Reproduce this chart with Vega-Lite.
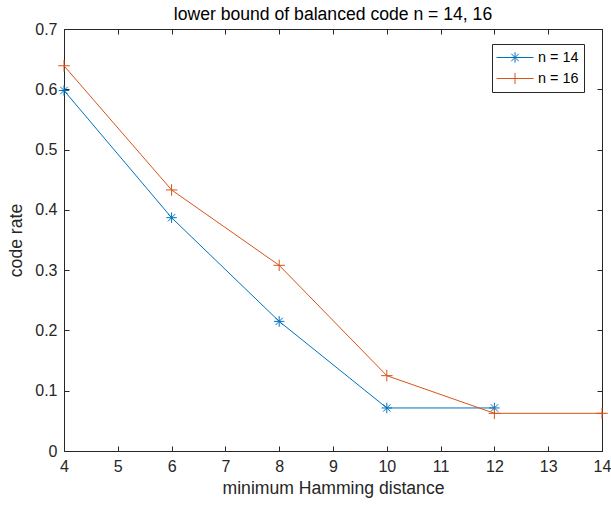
{
  "$schema": "https://vega.github.io/schema/vega-lite/v6.json",
  "width": 538,
  "height": 422,
  "autosize": "none",
  "padding": {"left": 64, "top": 29, "right": 9, "bottom": 55},
  "background": "white",
  "config": {
    "font": "Liberation Sans",
    "view": {"stroke": null},
    "axis": {
      "domainColor": "#262626",
      "tickColor": "#262626",
      "labelColor": "#262626",
      "titleColor": "#262626",
      "labelFontSize": 16,
      "titleFontSize": 17.6,
      "titleFontWeight": "normal",
      "grid": false,
      "tickSize": -5,
      "domainWidth": 1,
      "tickWidth": 1
    }
  },
  "title": {
    "text": "lower bound of balanced code n = 14, 16",
    "fontSize": 17.6,
    "fontWeight": "normal",
    "color": "#000000",
    "offset": -3
  },
  "data": {
    "values": [
      {"d": 4, "rate": 0.598, "series": "n = 14"},
      {"d": 6, "rate": 0.387, "series": "n = 14"},
      {"d": 8, "rate": 0.215, "series": "n = 14"},
      {"d": 10, "rate": 0.0714, "series": "n = 14"},
      {"d": 12, "rate": 0.0714, "series": "n = 14"},
      {"d": 4, "rate": 0.639, "series": "n = 16"},
      {"d": 6, "rate": 0.433, "series": "n = 16"},
      {"d": 8, "rate": 0.308, "series": "n = 16"},
      {"d": 10, "rate": 0.125, "series": "n = 16"},
      {"d": 12, "rate": 0.0625, "series": "n = 16"},
      {"d": 14, "rate": 0.0625, "series": "n = 16"}
    ]
  },
  "layer": [
    {
      "mark": {"type": "line", "strokeWidth": 1, "clip": false},
      "encoding": {
        "x": {
          "field": "d", "type": "quantitative",
          "scale": {"domain": [4, 14], "nice": false, "zero": false},
          "axis": {"title": "minimum Hamming distance", "values": [4,5,6,7,8,9,10,11,12,13,14], "labelPadding": 12, "titlePadding": 5, "orient": "bottom", "labelFlush": false}
        },
        "y": {
          "field": "rate", "type": "quantitative",
          "scale": {"domain": [0, 0.7], "nice": false},
          "axis": {"title": "code rate", "values": [0,0.1,0.2,0.3,0.4,0.5,0.6,0.7], "format": "~g", "labelPadding": 12, "titlePadding": 9, "orient": "left", "labelFlush": false}
        },
        "color": {
          "field": "series", "type": "nominal",
          "scale": {"domain": ["n = 14", "n = 16"], "range": ["#0072BD", "#D95319"]},
          "legend": {
            "title": null,
            "orient": "none",
            "legendX": 428,
            "legendY": 15,
            "padding": 5,
            "strokeColor": "#262626",
            "fillColor": "white",
            "labelFontSize": 14.4,
            "labelColor": "#000000",
            "labelOffset": 24,
            "rowPadding": 5,
            "symbolSize": 256,
            "symbolStrokeWidth": 1,
            "encode": {
              "symbols": {
                "update": {
                  "shape": {"signal": "datum.value === 'n = 14' ? 'M-1.125,0H3.5M1.19,-0.65V0.65M0.54,0H1.84M0.73,-0.46L1.65,0.46M0.73,0.46L1.65,-0.46' : 'M-1.125,0H3.5M1.19,-0.7V0.7'"},
                  "fill": {"value": "transparent"},
                  "strokeWidth": {"value": 1}
                }
              }
            }
          }
        }
      }
    },
    {
      "transform": [{"filter": "datum.series === 'n = 14'"}],
      "mark": {"type": "point", "filled": false, "strokeWidth": 1, "size": 110, "opacity": 1, "clip": false, "color": "#0072BD", "shape": "M0,-1V1M-1,0H1M-0.7,-0.7L0.7,0.7M-0.7,0.7L0.7,-0.7"},
      "encoding": {
        "x": {
          "field": "d", "type": "quantitative",
          "axis": {"orient": "top", "title": null, "labels": false, "values": [4,5,6,7,8,9,10,11,12,13,14]}
        },
        "y": {
          "field": "rate", "type": "quantitative",
          "axis": {"orient": "right", "title": null, "labels": false, "values": [0,0.1,0.2,0.3,0.4,0.5,0.6,0.7]}
        }
      }
    },
    {
      "transform": [{"filter": "datum.series === 'n = 16'"}],
      "mark": {"type": "point", "filled": false, "strokeWidth": 1, "size": 110, "opacity": 1, "clip": false, "color": "#D95319", "shape": "M0,-1.1V1.1M-1.1,0H1.1"},
      "encoding": {
        "x": {"field": "d", "type": "quantitative", "axis": null},
        "y": {"field": "rate", "type": "quantitative", "axis": null}
      }
    }
  ],
  "resolve": {"axis": {"x": "independent", "y": "independent"}}
}
